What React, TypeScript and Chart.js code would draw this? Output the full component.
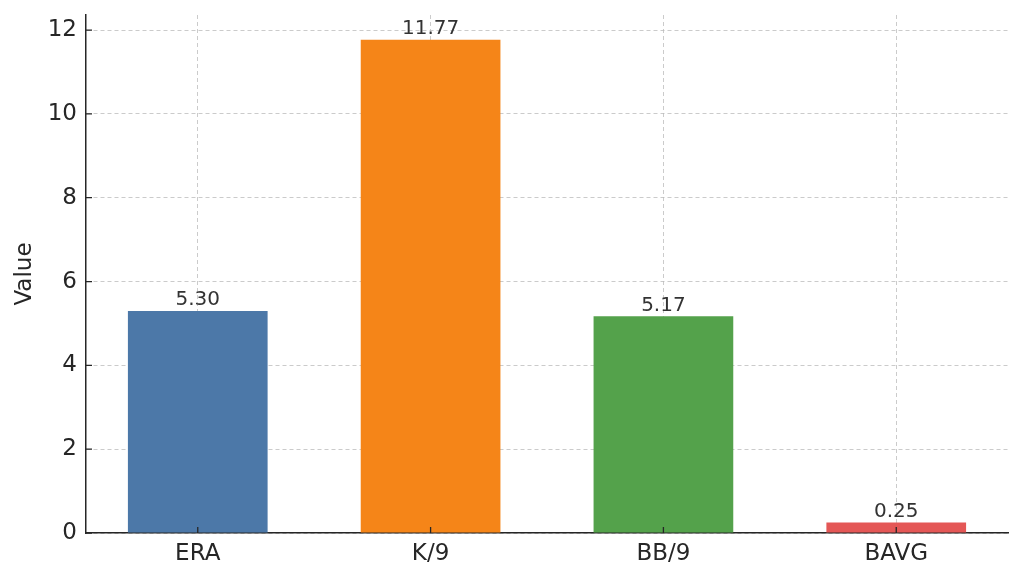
import React, { useEffect, useRef } from "react";
import { Chart, registerables } from "chart.js";

Chart.register(...registerables);

const categories = ["ERA", "K/9", "BB/9", "BAVG"];
const values = [5.3, 11.77, 5.17, 0.25];
const barColors = ["#4c78a8", "#f58518", "#54a24b", "#e45756"];
const yTicks = [0, 2, 4, 6, 8, 10, 12];
const yMax = 12.36;
const xMin = -0.48;
const xMax = 3.48;

const FONT = "'DejaVu Sans', sans-serif";

const valueLabels = {
  id: "valueLabels",
  afterDatasetsDraw(chart: any) {
    const ctx = chart.ctx;
    const meta = chart.getDatasetMeta(0);
    ctx.save();
    ctx.font = `20px ${FONT}`;
    ctx.fillStyle = "#333333";
    ctx.textAlign = "center";
    ctx.textBaseline = "bottom";
    meta.data.forEach((bar: any, i: number) => {
      ctx.fillText(values[i].toFixed(2), bar.x, bar.y - 1);
    });
    ctx.restore();
  },
};

const inwardTicks = {
  id: "inwardTicks",
  afterDraw(chart: any) {
    const ctx = chart.ctx;
    const xs = chart.scales.x;
    const ys = chart.scales.y;
    const area = chart.chartArea;
    ctx.save();
    ctx.strokeStyle = "#262626";
    ctx.lineWidth = 1.3;
    ctx.beginPath();
    xs.ticks.forEach((t: any) => {
      const px = xs.getPixelForValue(t.value);
      ctx.moveTo(px, area.bottom);
      ctx.lineTo(px, area.bottom - 6);
    });
    ys.ticks.forEach((t: any) => {
      const py = ys.getPixelForValue(t.value);
      ctx.moveTo(area.left, py);
      ctx.lineTo(area.left + 6, py);
    });
    ctx.stroke();
    ctx.restore();
  },
};

export default function App() {
  const ref = useRef<HTMLCanvasElement | null>(null);
  useEffect(() => {
    if (!ref.current) return;
    const chart = new Chart(ref.current, {
      type: "bar",
      data: {
        datasets: [
          {
            data: values.map((v, i) => ({ x: i, y: v })),
            backgroundColor: barColors,
            borderWidth: 0,
            categoryPercentage: 1,
            barPercentage: 0.6,
          },
        ],
      },
      options: {
        animation: false,
        responsive: false,
        maintainAspectRatio: false,
        layout: { padding: { top: 15, right: 16, left: 0, bottom: 0 } },
        plugins: { legend: { display: false }, tooltip: { enabled: false } },
        scales: {
          x: {
            type: "linear",
            z: 1,
            min: xMin,
            max: xMax,
            offset: false,
            afterBuildTicks(scale: any) {
              scale.ticks = categories.map((_, i) => ({ value: i }));
            },
            grid: {
              offset: false,
              color: "rgba(185,185,185,0.75)",
              lineWidth: 1,
              drawTicks: false,
            } as any,
            border: { display: true, color: "#262626", width: 1.5, dash: [4, 3] },
            ticks: {
              color: "#262626",
              font: { family: FONT, size: 23 },
              padding: 7,
              autoSkip: false,
              maxRotation: 0,
              callback: (v: any) => categories[Math.round(Number(v))] ?? "",
            },
            afterFit(scale: any) {
              scale.height = 46;
              scale.paddingLeft = 0;
              scale.paddingRight = 0;
            },
          },
          y: {
            z: 1,
            min: 0,
            max: yMax,
            afterBuildTicks(scale: any) {
              scale.ticks = yTicks.map((v) => ({ value: v }));
            },
            grid: {
              color: "rgba(185,185,185,0.75)",
              lineWidth: 1,
              drawTicks: false,
            } as any,
            border: { display: true, color: "#262626", width: 1.5, dash: [4, 3] },
            ticks: {
              color: "#262626",
              font: { family: FONT, size: 23 },
              padding: 9,
            },
            title: {
              display: true,
              text: "Value",
              color: "#262626",
              font: { family: FONT, size: 23 },
              padding: { top: 11, bottom: 0 },
            },
            afterFit(scale: any) {
              scale.width = 86;
              scale.paddingTop = 0;
              scale.paddingBottom = 0;
            },
          },
        },
      },
      plugins: [valueLabels, inwardTicks],
    });
    return () => chart.destroy();
  }, []);
  return (
    <div style={{ position: "fixed", left: 0, top: 0, width: 1024, height: 579, background: "#fff" }}>
      <canvas ref={ref} width={1024} height={579} style={{ width: 1024, height: 579 }} />
    </div>
  );
}
